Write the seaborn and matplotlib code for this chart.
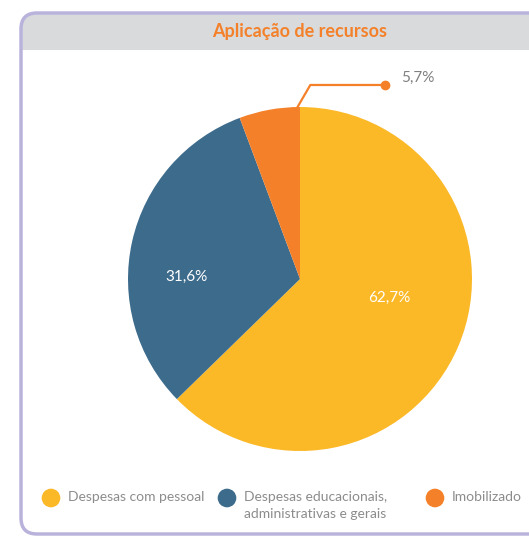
import matplotlib.pyplot as plt
import seaborn as sns
from matplotlib.patches import FancyBboxPatch, Rectangle

# data
categories = ['Despesas com pessoal', 'Despesas educacionais,\nadministrativas e gerais', 'Imobilizado']
values = [62.7, 31.6, 5.7]
colors = ['#FBB827', '#3D6B8C', '#F4812A']
title = 'Aplicação de recursos'

sns.set_theme(style='white')
plt.rcParams['font.family'] = ['Lato', 'DejaVu Sans']

W, H = 529, 536
fig = plt.figure(figsize=(W / 100, H / 100), dpi=100)

# background / frame in pixel coords
bg = fig.add_axes([0, 0, 1, 1])
bg.set_xlim(0, W)
bg.set_ylim(H, 0)
bg.axis('off')

box = dict(boxstyle='round,pad=0,rounding_size=16')
frame = FancyBboxPatch((21, 13), 560, 521, facecolor='white', edgecolor='none', zorder=1, **box)
bg.add_patch(frame)
header = Rectangle((0, 0), W + 50, 50, facecolor='#D9DADC', edgecolor='none', zorder=2)
bg.add_patch(header)
header.set_clip_path(frame)
bg.add_patch(FancyBboxPatch((21, 13), 560, 521, facecolor='none', edgecolor='#B9B3DC',
                            linewidth=2.5, zorder=3, **box))
bg.text(300, 32, title, ha='center', va='center', color='#F4812A',
        fontsize=13, fontweight='bold', zorder=4)

# pie
cx, cy, r = 300, 279, 172
ax = fig.add_axes([(cx - r) / W, (H - cy - r) / H, 2 * r / W, 2 * r / H])
ax.pie(values, colors=colors, startangle=90, counterclock=False,
       wedgeprops=dict(linewidth=0))
ax.set_xlim(-1, 1)
ax.set_ylim(-1, 1)

fmt = lambda v: f'{v:.1f}%'.replace('.', ',')
ax.text(0.52, -0.11, fmt(values[0]), color='white', fontsize=11, ha='center', va='center')
ax.text(-0.66, 0.01, fmt(values[1]), color='white', fontsize=11, ha='center', va='center')

# leader line for small slice
lx = [-0.02, 0.06, 0.495]
ly = [0.99, 1.128, 1.128]
ax.plot(lx, ly, color=colors[2], linewidth=1.6, clip_on=False)
ax.plot(lx[-1], ly[-1], 'o', color=colors[2], markersize=6, clip_on=False)
ax.text(0.59, 1.17, fmt(values[2]), color='#7f7f7f', fontsize=11, ha='left', va='center')

# legend, drawn by hand so the two-line label hangs from its first line
legend_x = [51, 227, 435]
legend_y = 498
bg.scatter(legend_x, [legend_y] * 3, s=180, c=colors, linewidths=0, zorder=4)
for x, lab in zip(legend_x, categories):
    bg.text(x + 17, legend_y - 7, lab, ha='left', va='top', color='#8c8c8c',
            fontsize=10, linespacing=1.45, zorder=4)

fig.savefig('out.png', dpi=100)
